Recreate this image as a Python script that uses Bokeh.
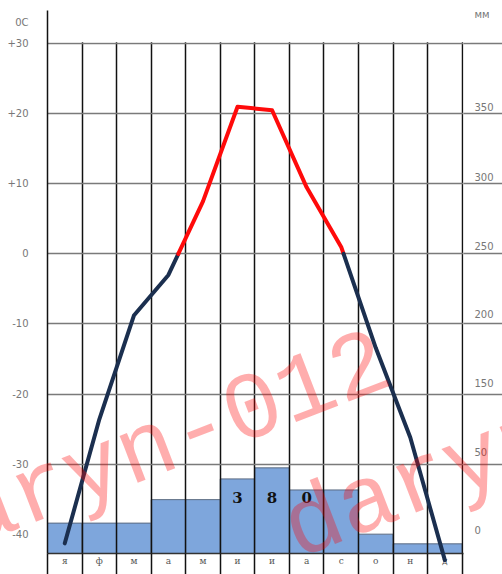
import numpy as np
from bokeh.plotting import figure
from bokeh.models import Range1d, LinearAxis, FixedTicker, Grid
from bokeh.core.properties import value
from bokeh.embed import file_html
from bokeh.resources import INLINE

# ---------------- data ----------------
months = ["я", "ф", "м", "а", "м", "и", "и", "а", "с", "о", "н", "д"]
temperature = [-41.3, -23.6, -8.8, -3.0, 7.5, 21.0, 20.5, 9.5, 1.0, -13.4, -26.2, -43.7]   # °C
precipitation = [22, 22, 22, 39, 39, 54, 62, 46, 46, 14, 7, 7]                              # mm
temp_ticks = [30, 20, 10, 0, -10, -20, -30, -40]
temp_tick_labels = ["+30", "+20", "+10", "0", "-10", "-20", "-30", "-40"]
temp_unit = "0C"
mm_tick_labels = ["350", "300", "250", "200", "150", "50", "0"]
mm_unit = "мм"
watermark = "daryn-012"

# ---------------- layout constants ----------------
X_END = 12.04
T_RANGE = (-42.75, 34.73)
MM_TOP = 393.1
unit_pos_left = 33.0
unit_pos_right = 34.16
mm_label_pos = [20.9, 10.9, 1.1, -8.6, -18.5, -28.3, -39.5]

p = figure(width=502, height=574,
           x_range=Range1d(0, X_END), y_range=Range1d(*T_RANGE),
           x_axis_type=None, y_axis_type=None,
           output_backend="svg", toolbar_location=None,
           min_border_left=47, min_border_right=39,
           min_border_top=10, min_border_bottom=21,
           background_fill_color="white", border_fill_color="white",
           outline_line_color=None)
p.extra_y_ranges = {"mm": Range1d(0, MM_TOP)}

xc = np.arange(len(months)) + 0.5

# precipitation bars
p.vbar(x=xc, top=precipitation, bottom=0, width=1.0, y_range_name="mm",
       fill_color="#7ea6dc", line_color="#5b6b82", line_width=1, level="image")

# grids
vgrid = Grid(dimension=0, ticker=FixedTicker(ticks=list(range(len(months) + 1))),
             grid_line_color="#111111", grid_line_width=1.5)
hgrid = Grid(dimension=1, ticker=FixedTicker(ticks=temp_ticks[:-1]),
             grid_line_color="#7a7a7a", grid_line_width=1.5)
p.add_layout(vgrid)
p.add_layout(hgrid)

# white area above the +30 line (the vertical lines start at +30)
p.quad(left=[0.05], right=[X_END + 0.2], bottom=[temp_ticks[0] + 0.2], top=[T_RANGE[1] + 3],
       fill_color="white", line_color=None, level="overlay")

# temperature curve, blue below 0, red above 0
t = np.array(temperature, dtype=float)
runs = []
cur_x, cur_y = [xc[0]], [t[0]]
cur_warm = t[0] > 0
for i in range(len(t) - 1):
    if (t[i] > 0) != (t[i + 1] > 0):
        xz = xc[i] + (0 - t[i]) / (t[i + 1] - t[i]) * (xc[i + 1] - xc[i])
        cur_x.append(xz); cur_y.append(0.0)
        runs.append((cur_warm, cur_x, cur_y))
        cur_x, cur_y = [xz], [0.0]
        cur_warm = not cur_warm
    cur_x.append(xc[i + 1]); cur_y.append(t[i + 1])
runs.append((cur_warm, cur_x, cur_y))
for warm, rx, ry in runs:
    p.line(rx, ry, line_color="#ff0a0a" if warm else "#1b2f4f",
           line_width=4, line_join="round", line_cap="round", level="overlay")

# annual total written across the bars
total_digits = list(str(sum(precipitation)))
p.text(x=list(xc[5:5 + len(total_digits)]), y=[40.5] * len(total_digits),
       text=total_digits, y_range_name="mm",
       text_font=value("DejaVu Serif"), text_font_style="bold",
       text_font_size="15px", text_color="#111111",
       text_align="center", text_baseline="middle")

# axes
lab_font = "DejaVu Sans"
left = LinearAxis(ticker=FixedTicker(ticks=[unit_pos_left] + temp_ticks, minor_ticks=[]),
                  major_label_overrides={**{unit_pos_left: temp_unit},
                                         **dict(zip(temp_ticks, temp_tick_labels))},
                  axis_line_color="#111111", axis_line_width=1.5,
                  major_tick_line_color=None, minor_tick_line_color=None,
                  major_label_standoff=13,
                  major_label_text_font=lab_font, major_label_text_font_size="10px",
                  major_label_text_color="#777777")
p.add_layout(left, "left")

right = LinearAxis(ticker=FixedTicker(ticks=[unit_pos_right] + mm_label_pos,
                                      minor_ticks=temp_ticks[:-1]),
                   major_label_overrides={**{unit_pos_right: mm_unit},
                                          **dict(zip(mm_label_pos, mm_tick_labels))},
                   axis_line_color=None,
                   major_tick_line_color=None,
                   minor_tick_in=0, minor_tick_out=39,
                   minor_tick_line_color="#7a7a7a", minor_tick_line_width=1.5,
                   major_label_standoff=-28,
                   major_label_text_font=lab_font, major_label_text_font_size="10px",
                   major_label_text_color="#777777")
p.add_layout(right, "right")

bottom = LinearAxis(ticker=FixedTicker(ticks=list(xc), minor_ticks=list(range(len(months) + 1))),
                    major_label_overrides=dict(zip([float(v) for v in xc], months)),
                    axis_line_color="#333333", axis_line_width=1.5,
                    major_tick_line_color=None,
                    minor_tick_in=0, minor_tick_out=21,
                    minor_tick_line_color="#111111", minor_tick_line_width=1.5,
                    major_label_standoff=-19,
                    major_label_text_font="DejaVu Serif", major_label_text_font_size="9px",
                    major_label_text_color="#555555")
p.add_layout(bottom, "below")

# watermark
p.text(x=[2.89, 13.89], y=[-28.3, -27.0], text=[watermark, watermark],
       angle=21, angle_units="deg",
       text_font=value("Liberation Mono"), text_font_size="95px",
       text_color="#ff0000", text_alpha=0.32,
       text_align="center", text_baseline="middle", level="overlay")

open("out.html", "w").write(file_html(p, INLINE))
